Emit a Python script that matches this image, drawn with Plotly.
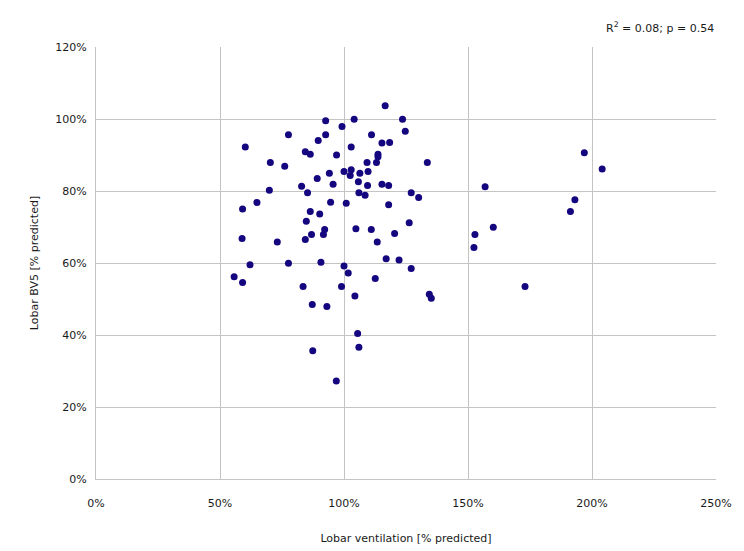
import plotly.graph_objects as go

# Lobar ventilation [% predicted]
vent = [92.6, 99.2, 77.6, 92.6, 89.6, 60.2, 102.9, 84.4, 86.4, 97.0,
        70.3, 76.1, 100.0, 94.1, 102.5, 89.2, 95.6, 69.9, 82.9, 85.3,
        64.9, 59.1, 94.6, 100.9, 86.4, 90.2, 116.6, 104.1, 123.6, 124.7,
        111.1, 115.3, 118.4, 113.7, 113.7, 109.3, 113.1, 133.6, 102.9, 109.7,
        106.4, 105.8, 109.5, 115.3, 118.0, 106.0, 108.5, 127.1, 130.1, 118.0,
        84.8, 92.2, 86.9, 91.7, 58.9, 73.1, 84.4, 62.1, 77.6, 90.7,
        100.0, 101.7, 55.7, 59.1, 83.5, 99.0, 87.2, 93.1, 87.4, 96.9,
        104.8, 111.0, 126.3, 120.4, 113.4, 152.8, 152.4, 117.0, 122.2, 127.1,
        112.6, 104.4, 134.4, 135.2, 105.5, 106.0, 196.9, 204.1, 156.9, 193.1,
        191.3, 160.2, 173.0]
# Lobar BV5 [% predicted]
bv5 = [99.5, 97.9, 95.6, 95.6, 94.0, 92.2, 92.2, 90.9, 90.2, 90.0,
       87.9, 86.9, 85.4, 84.9, 84.3, 83.5, 81.9, 80.2, 81.3, 79.5,
       76.8, 75.0, 76.9, 76.6, 74.3, 73.6, 103.7, 99.9, 99.9, 96.6,
       95.6, 93.3, 93.5, 90.2, 89.5, 87.9, 87.9, 87.9, 85.9, 85.4,
       84.9, 82.6, 81.5, 81.9, 81.5, 79.5, 78.8, 79.5, 78.2, 76.2,
       71.6, 69.3, 67.9, 67.9, 66.8, 65.8, 66.5, 59.5, 59.9, 60.2,
       59.2, 57.2, 56.2, 54.6, 53.5, 53.5, 48.5, 47.9, 35.6, 27.2,
       69.5, 69.3, 71.2, 68.2, 65.8, 67.9, 64.3, 61.2, 60.8, 58.5,
       55.7, 50.8, 51.3, 50.2, 40.4, 36.6, 90.6, 86.1, 81.2, 77.6,
       74.3, 69.9, 53.5]

x_ticks = [0, 50, 100, 150, 200, 250]
y_ticks = [0, 20, 40, 60, 80, 100, 120]
stats_text = "R<sup>2</sup> = 0.08; p = 0.54"

fig = go.Figure()
fig.add_trace(go.Scatter(
    x=[v / 100 for v in vent], y=[b / 100 for b in bv5],
    mode="markers",
    marker=dict(color="#14067f", size=7, line=dict(width=0)),
    showlegend=False,
))

font = dict(family="DejaVu Sans", size=11, color="#1a1a1a")
grid = "#c4c4c4"

# page body has an 8px margin, so the figure is sized to fit 744x551 window
fig.update_layout(
    width=736, height=543,
    margin=dict(l=87.5, r=28, t=39, b=72),
    paper_bgcolor="white", plot_bgcolor="white",
    font=font,
    xaxis=dict(
        range=[0, 2.5], tickvals=[t / 100 for t in x_ticks],
        ticktext=[f"{t}%" for t in x_ticks],
        showgrid=True, gridcolor=grid, gridwidth=1, zeroline=False,
        showline=True, linecolor=grid, linewidth=1, mirror=False,
        ticks="", ticklabelstandoff=14, automargin=False,
        title=dict(text="Lobar ventilation [% predicted]", standoff=25, font=font),
    ),
    yaxis=dict(
        range=[0, 1.2], tickvals=[t / 100 for t in y_ticks],
        ticktext=[f"{t}%" for t in y_ticks],
        showgrid=True, gridcolor=grid, gridwidth=1, zeroline=False,
        showline=True, linecolor=grid, linewidth=1, mirror=False,
        ticks="", ticklabelstandoff=6, automargin=False,
        title=dict(text="Lobar BV5 [% predicted]", standoff=14, font=font),
    ),
    annotations=[dict(
        text=stats_text, xref="paper", yref="paper", x=1, y=1.046,
        xanchor="right", yanchor="middle", showarrow=False,
        font=dict(family="DejaVu Sans", size=11, color="#1a1a1a"),
    )],
)

fig.write_html("out.html")
